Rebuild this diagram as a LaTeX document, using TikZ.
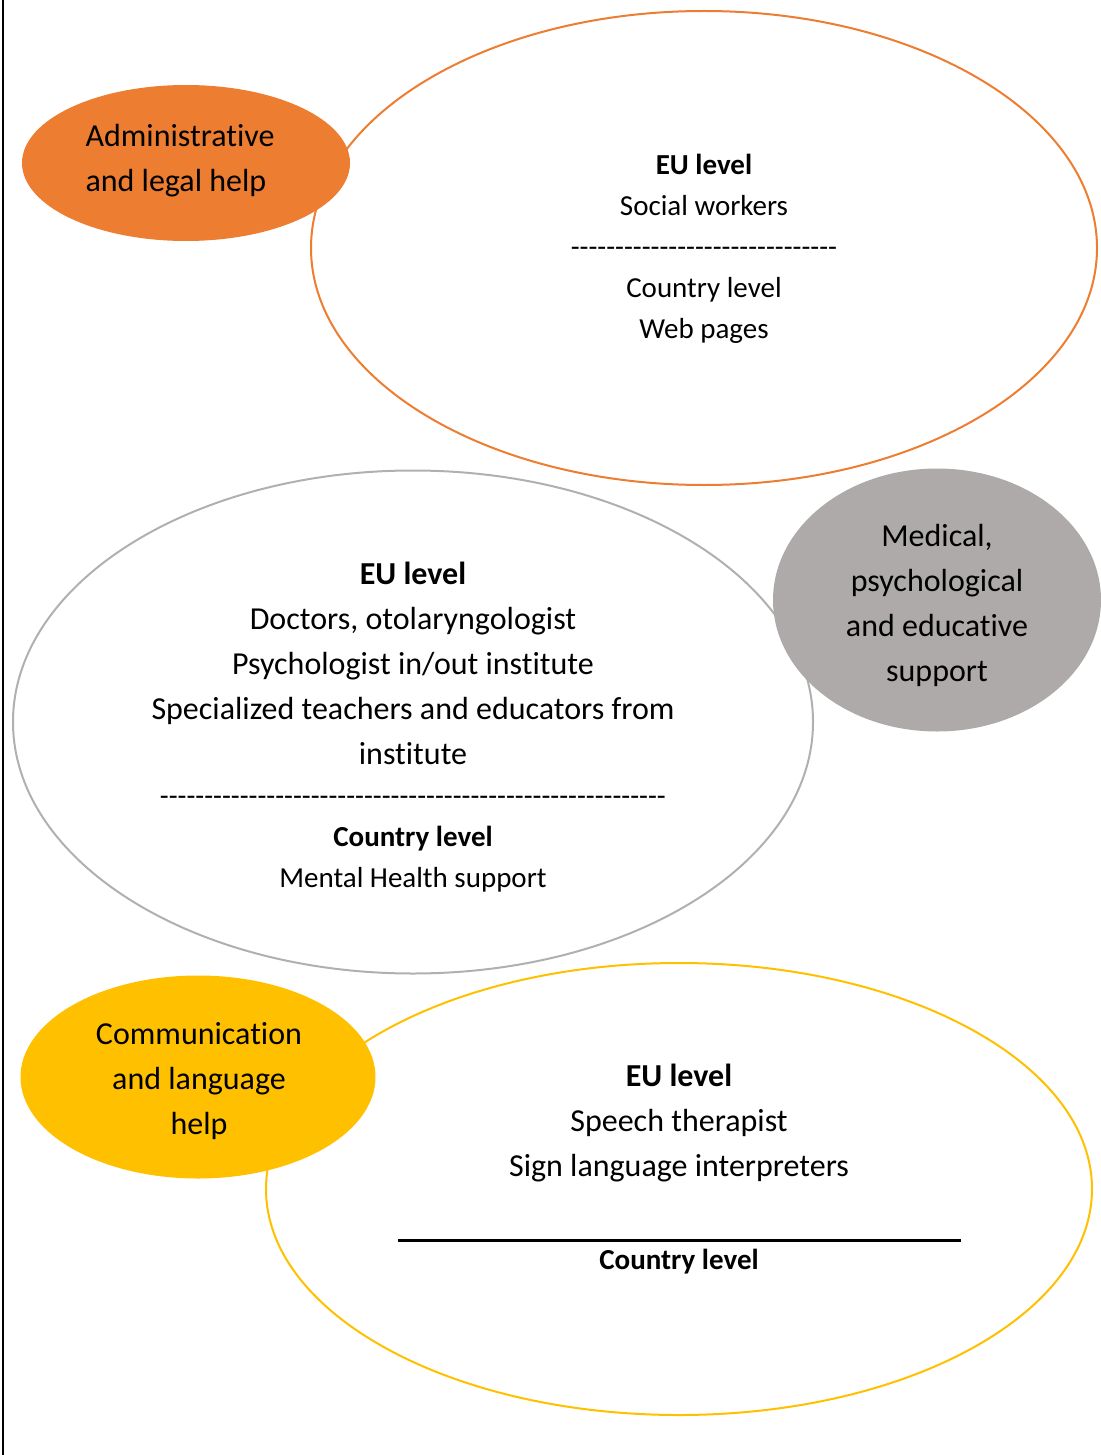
\documentclass[tikz,border=0pt]{standalone}
\usepackage{fontspec}
\setmainfont{Carlito}[Ligatures=NoCommon]
\usetikzlibrary{shapes.geometric}
\definecolor{admorange}{HTML}{ED7D31}
\definecolor{medgray}{HTML}{AEAAAA}
\definecolor{ringgray}{HTML}{B0B0B0}
\definecolor{comyellow}{HTML}{FFC000}
\newcommand\hyphenrow[1]{\foreach \n in {1,...,#1}{-}}

\begin{document}
\begin{tikzpicture}[x=1pt, y=-1pt,
ring/.style={ellipse, draw, line width=2pt, inner sep=0pt},
blob/.style={ellipse, inner sep=0pt},
small/.style={align=center, inner sep=0pt, font=\fontsize{29}{41}\selectfont},
big/.style={align=center, inner sep=0pt, font=\fontsize{32}{45}\selectfont}]
\useasboundingbox (0,0) rectangle (1100,1455);
\draw[line width=2pt] (3,0) -- (3,1455);

\node[ring, draw=admorange, minimum width=786pt, minimum height=474pt] (admring) at (704,248) {};
\node[blob, fill=admorange, minimum width=328pt, minimum height=156pt] (admblob) at (186,163) {};
\node[big, align=left] (admlabel) at (180,161) {Administrative\\and legal help};
\node[small] (admtext) at (704,249) {\textbf{EU level}\\Social workers\\\hyphenrow{30}\\Country level\\Web pages};

\node[ring, draw=ringgray, minimum width=800pt, minimum height=503pt] (medring) at (413,722) {};
\node[blob, fill=medgray, minimum width=328pt, minimum height=263pt] (medblob) at (937,600) {};
\node[big] (medlabel) at (937,605) {Medical,\\psychological\\and educative\\support};
\node[big] (medeu) at (413,663) {\textbf{EU level}\\Doctors, otolaryngologist\\Psychologist in/out institute\\Specialized teachers and educators from\\institute};
\node[small] (medcountry) at (413,844) {\hyphenrow{57}\\\textbf{Country level}\\Mental Health support};

\node[ring, draw=comyellow, minimum width=826pt, minimum height=452pt] (comring) at (679,1189) {};
\node[blob, fill=comyellow, minimum width=355pt, minimum height=203pt] (comblob) at (198,1077) {};
\node[big] (comlabel) at (199,1081) {Communication\\and language\\help};
\node[big] (comeu) at (679,1123) {\textbf{EU level}\\Speech therapist\\Sign language interpreters};
\coordinate (ruleL) at (398,1240);
\coordinate (ruleR) at (961,1240);
\draw[line width=3pt] (ruleL) -- (ruleR);
\node[small] (comcountry) at (679,1262) {\textbf{Country level}};
\end{tikzpicture}
\end{document}
